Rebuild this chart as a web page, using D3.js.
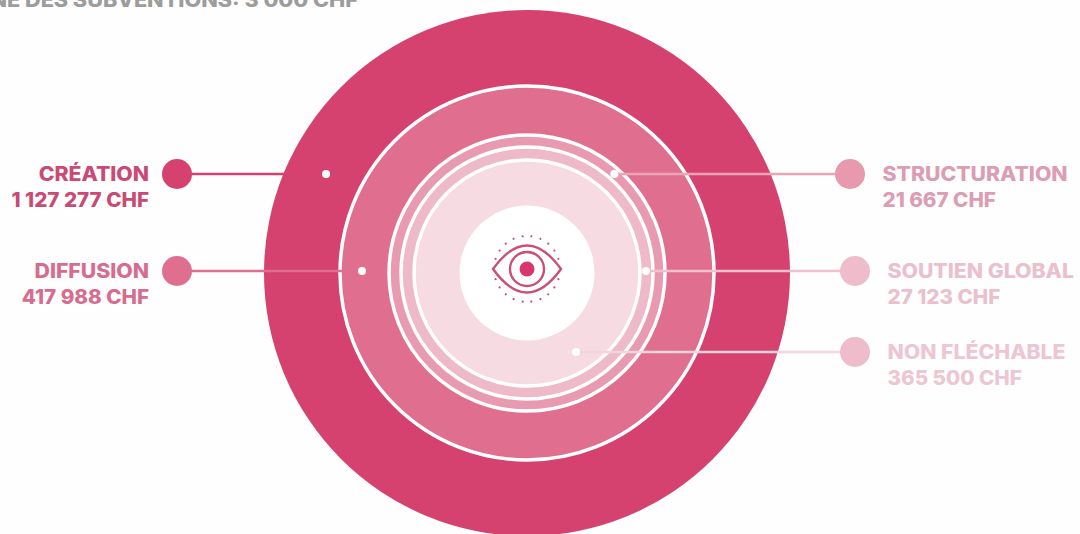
<!DOCTYPE html>
<html>
<head>
<meta charset="utf-8">
<script src="https://cdn.jsdelivr.net/npm/d3@7"></script>
<style>
  html, body { margin: 0; padding: 0; background: #fff; overflow: hidden; }
  text { font-family: "Inter", "Liberation Sans", sans-serif; font-weight: 800; }
</style>
</head>
<body>
<div id="chart"></div>
<script>
// rings, from the centre outwards
var categories = ["NON FLÉCHABLE", "SOUTIEN GLOBAL", "STRUCTURATION", "DIFFUSION", "CRÉATION"];
var amounts = [365500, 27123, 21667, 417988, 1127277];
var title = "MOYENNE DES SUBVENTIONS: 3 000 CHF";

// look of each ring / label, same order as categories
var ringColors = ["#f6dbe3", "#eeb9c8", "#e89ab0", "#e06f8f", "#d6426f"];
var lineColors = ["#f4d5de", "#f0c0cf", "#eba3b7", "#e06f8f", "#d6426f"];
var bulletColors = ["#efbccb", "#eebccb", "#e899ae", "#e06f8f", "#d6426f"];
var textColors = ["#ecc6d2", "#eac0cd", "#dc9db3", "#d66d8f", "#c94a74"];
var sides = ["right", "right", "right", "left", "left"];
var rowY = [352, 271, 174, 271, 174];
var bulletX = [855, 855, 850, 177, 177];
var dotRadius = [93, 119, 132, 165, 224];

var width = 1080, height = 534;
var cx = 527, cy = 273;

var svg = d3.select("#chart").append("svg")
    .attr("width", width)
    .attr("height", height);

svg.append("rect").attr("width", width).attr("height", height).attr("fill", "#fefefe");

// title is cropped by the top and left of the picture
svg.append("text")
    .attr("text-anchor", "end")
    .attr("font-size", 19.5)
    .attr("fill", "#9c9c9c")
    .attr("transform", "translate(358,7) scale(1.11,1)")
    .text(title);

// the real picture is not strictly proportional, so the radius goes piece by piece
var totals = d3.cumsum(amounts);
var radius = d3.scaleSqrt()
    .domain([0].concat(Array.from(totals)))
    .range([67.5, 113, 126, 138, 187, 263]);

var rows = categories.map(function(name, i) {
    return { name: name, amount: amounts[i], total: totals[i], i: i };
});

// biggest first so the small ones sit on top
svg.selectAll(".ring")
    .data(rows.slice().reverse())
    .enter()
    .append("circle")
    .attr("class", "ring")
    .attr("cx", cx).attr("cy", cy)
    .attr("r", function(d) { return radius(d.total); })
    .attr("fill", function(d) { return ringColors[d.i]; })
    .attr("stroke", function(d) { return d.i == 4 ? "none" : "#fff"; })
    .attr("stroke-width", 3.5);

svg.append("circle")
    .attr("cx", cx).attr("cy", cy)
    .attr("r", radius(0))
    .attr("fill", "#fff");

// where the leader of a row lands inside its ring
function dotX(d) {
    var dy = rowY[d.i] - cy;
    var dx = Math.sqrt(dotRadius[d.i] * dotRadius[d.i] - dy * dy);
    return sides[d.i] == "left" ? cx - dx : cx + dx;
}

svg.selectAll(".leader")
    .data(rows)
    .enter()
    .append("line")
    .attr("class", "leader")
    .attr("x1", function(d) { return bulletX[d.i]; })
    .attr("x2", dotX)
    .attr("y1", function(d) { return rowY[d.i]; })
    .attr("y2", function(d) { return rowY[d.i]; })
    .attr("stroke", function(d) { return lineColors[d.i]; })
    .attr("stroke-width", 2.5);

svg.selectAll(".dot")
    .data(rows)
    .enter()
    .append("circle")
    .attr("class", "dot")
    .attr("cx", dotX)
    .attr("cy", function(d) { return rowY[d.i]; })
    .attr("r", 4)
    .attr("fill", "#fff");

svg.selectAll(".bullet")
    .data(rows)
    .enter()
    .append("circle")
    .attr("class", "bullet")
    .attr("cx", function(d) { return bulletX[d.i]; })
    .attr("cy", function(d) { return rowY[d.i]; })
    .attr("r", 15)
    .attr("fill", function(d) { return bulletColors[d.i]; });

// labels
var fr = d3.formatLocale({ decimal: ",", thousands: " ", grouping: [3], currency: ["", " CHF"] });
var money = fr.format("$,");

var labels = svg.selectAll(".label")
    .data(rows)
    .enter()
    .append("g")
    .attr("class", "label")
    .attr("font-size", 19.5)
    .attr("fill", function(d) { return textColors[d.i]; })
    .attr("text-anchor", function(d) { return sides[d.i] == "left" ? "end" : "start"; })
    .attr("transform", function(d) {
        var x = sides[d.i] == "left" ? 149 : bulletX[d.i] + 32.5;
        return "translate(" + x + "," + (rowY[d.i] + 7) + ") scale(1.09,1)";
    });

labels.append("text").text(function(d) { return d.name; });
labels.append("text")
    .attr("transform", "translate(0,26) scale(0.97,1)")
    .text(function(d) { return money(d.amount); });

// eye in the middle
var eye = svg.append("g").attr("transform", "translate(" + cx + ",269)");
var lid = d3.path();
lid.moveTo(-34, 0);
lid.quadraticCurveTo(0, -47, 34, 0);
lid.quadraticCurveTo(0, 47, -34, 0);
lid.closePath();

eye.append("path")
    .attr("d", lid.toString())
    .attr("fill", "none")
    .attr("stroke", "#c94f78")
    .attr("stroke-width", 2.4);
eye.append("circle")
    .attr("r", 17)
    .attr("fill", "none")
    .attr("stroke", "#c94f78")
    .attr("stroke-width", 2.4);
eye.append("circle")
    .attr("r", 7.5)
    .attr("fill", "#d9366f");

var eyeDots = [];
[-1, 1].forEach(function(v) {
    [-1, 1].forEach(function(h) {
        [7.5, 24, 40, 56, 72].forEach(function(a) { eyeDots.push({ a: a * Math.PI / 180, v: v, h: h }); });
    });
});
eye.selectAll(".lash")
    .data(eyeDots)
    .enter()
    .append("circle")
    .attr("class", "lash")
    .attr("cx", function(d) { return d.h * 33 * Math.sin(d.a); })
    .attr("cy", function(d) { return d.v * 33 * Math.cos(d.a); })
    .attr("r", 1.1)
    .attr("fill", "#c94f78");
</script>
</body>
</html>
